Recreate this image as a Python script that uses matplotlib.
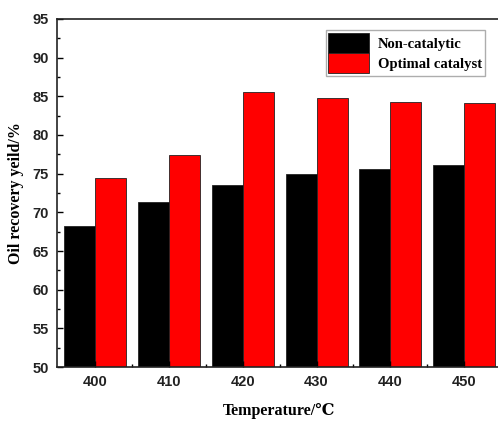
import matplotlib
matplotlib.use("Agg")
import matplotlib.pyplot as plt
import matplotlib.ticker as mticker
import numpy as np

# ── Data ──────────────────────────────────────────────────────────────────────
temps = ["400", "410", "420", "430", "440", "450"]
non_catalytic = [68.2, 71.4, 73.5, 75.0, 75.6, 76.1]
optimal_catalyst = [74.4, 77.4, 85.6, 84.8, 84.3, 84.2]

SANS = ["Liberation Sans", "DejaVu Sans"]
SERIF = ["Liberation Serif", "DejaVu Serif"]

fig = plt.figure(figsize=(4.98, 4.22), dpi=100)
ax = fig.add_axes([0.1145, 0.1303, 0.8916, 0.8247])

x = np.arange(len(temps))
w = 0.42
ax.bar(x - w / 2, non_catalytic, w, color="black", edgecolor="#222222", lw=0.6,
       label="Non-catalytic")
ax.bar(x + w / 2, optimal_catalyst, w, color="#ff0000", edgecolor="#222222", lw=0.6,
       label="Optimal catalyst")

ax.set_xlim(-0.516, 5.5)
ax.set_ylim(50, 95)
ax.set_xticks(x)
ax.set_xticklabels(temps)
ax.xaxis.set_minor_locator(mticker.FixedLocator(x[:-1] + 0.5))
ax.yaxis.set_major_locator(mticker.MultipleLocator(5))
ax.yaxis.set_minor_locator(mticker.MultipleLocator(2.5))
ax.tick_params(which="both", direction="in", top=False, right=False, width=1.0)
ax.tick_params(which="major", length=4, pad=6)
ax.tick_params(which="minor", length=2.5)
for lab in ax.get_xticklabels() + ax.get_yticklabels():
    lab.set_family(SANS)
    lab.set_fontweight("bold")
    lab.set_fontsize(10.5)
    lab.set_color("#222222")
for s in ax.spines.values():
    s.set_linewidth(1.2)
    s.set_color("#222222")

ax.set_xlabel("Temperature/℃", family=SERIF, fontweight="bold", fontsize=11.5,
              labelpad=10)
ax.set_ylabel("Oil recovery yeild/%", family=SERIF, fontweight="bold", fontsize=11.5,
              labelpad=6)

leg = ax.legend(loc="upper right", bbox_to_anchor=(0.964, 0.968), frameon=True,
                fancybox=False, prop={"family": SERIF, "weight": "bold", "size": 10.5},
                handlelength=2.8, handleheight=1.75, handletextpad=0.6,
                labelspacing=0.0, borderpad=0.2, borderaxespad=0)
leg.get_frame().set_edgecolor("#999999")
leg.get_frame().set_linewidth(1.0)

fig.savefig("out.png", dpi=100)
